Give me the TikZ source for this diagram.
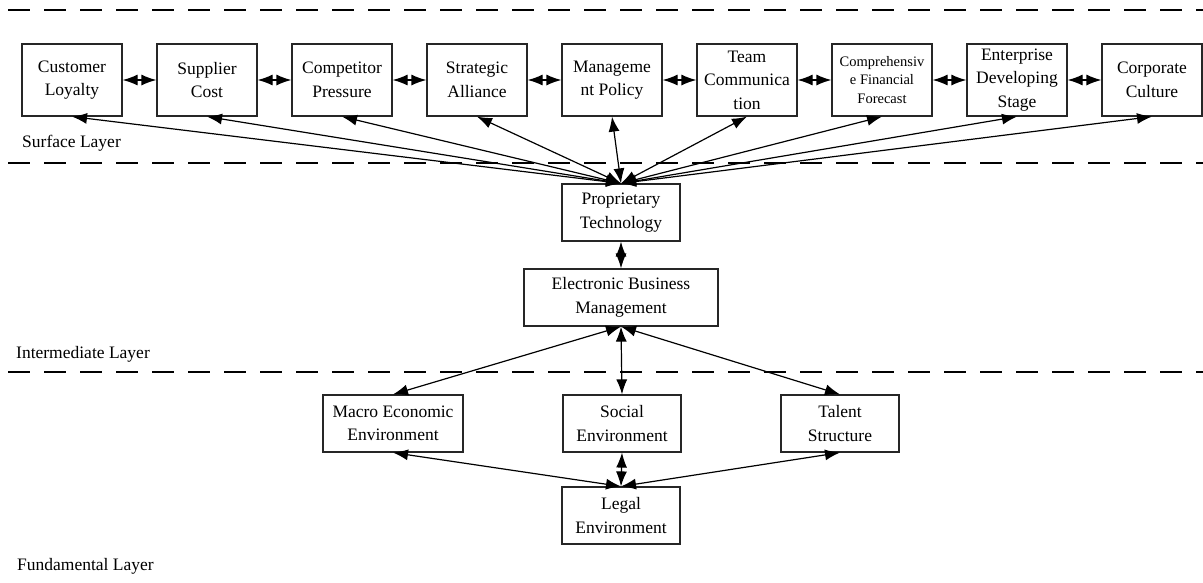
\documentclass[tikz,border=0pt]{standalone}
\usepackage{fontspec}
\setmainfont{Liberation Serif}
\usepackage{tikz}
\usetikzlibrary{arrows.meta, positioning}

\begin{document}
\begin{tikzpicture}[
      % GLOBAL CFG
      x=1pt, y=-1pt,
      font=\fontsize{17.5}{23.5}\selectfont,
      >={Latex[length=15pt,width=11pt]},
      % Styles
      box/.style={% For the factors
        rectangle,
        draw=black!85,
        line width=1.2pt,
        align=center,
        inner sep=1pt,
        minimum width=100pt,
        minimum height=72pt
      },
      midbox/.style={% For the lower factors
        box,
        minimum width=118pt,
        minimum height=57pt
      },
      arrowboth/.style={% Arrows between factors
        line width=1.2pt,
        <->,
      },
      layerline/.style={% Borders of the layers
        line width=1.3pt,
        dash pattern=on 22pt off 14pt,
      },
      layerlabel/.style={% Names of the layers
        anchor=west,
        inner sep=0pt
      }
      ]

      \useasboundingbox (0,0) rectangle (1203,582);

      % The layers
      \draw [layerline] (8,10) -- (1203,10);
      \draw [layerline] (8,163) -- (1203,163);
      \draw [layerline] (8,372) -- (1203,372);
      \node [layerlabel] (surface) at (22,143) {Surface Layer};
      \node [layerlabel] (intermediate) at (16,354) {Intermediate Layer};
      \node [layerlabel] (fundamental) at (17,566) {Fundamental Layer};

      % Surface layer:
      \node [box] (loyalty) at (72,80) {Customer\\Loyalty};
      \node [box] (supplier) at (207,80) {Supplier\\Cost};
      \node [box] (competitor) at (342,80) {Competitor\\Pressure};
      \node [box] (alliance) at (477,80) {Strategic\\Alliance};
      \node [box] (policy) at (612,80) {Manageme\\nt Policy};
      \node [box] (team) at (747,80) {Team\\Communica\\tion};
      \node [box, font=\fontsize{14.5}{18.5}\selectfont] (forecast) at (882,80) {Comprehensiv\\e Financial\\Forecast};
      \node [box] (stage) at (1017,80) {Enterprise\\Developing\\Stage};
      \node [box] (culture) at (1152,80) {Corporate\\Culture};
      \draw [arrowboth] (loyalty) -- (supplier);
      \draw [arrowboth] (supplier) -- (competitor);
      \draw [arrowboth] (competitor) -- (alliance);
      \draw [arrowboth] (alliance) -- (policy);
      \draw [arrowboth] (policy) -- (team);
      \draw [arrowboth] (team) -- (forecast);
      \draw [arrowboth] (forecast) -- (stage);
      \draw [arrowboth] (stage) -- (culture);

      % Intermediate layer:
      \node [midbox] (technology) at (621,212.5) {Proprietary\\Technology};
      \node [midbox, minimum width=194pt] (ebusiness) at (621,297.5) {Electronic Business\\Management};
      \draw [arrowboth] (technology) -- (ebusiness);
      \draw [arrowboth] (technology.north) -- (loyalty.south);
      \draw [arrowboth] (technology.north) -- (supplier.south);
      \draw [arrowboth] (technology.north) -- (competitor.south);
      \draw [arrowboth] (technology.north) -- (alliance.south);
      \draw [arrowboth] (technology.north) -- (policy.south);
      \draw [arrowboth] (technology.north) -- (team.south);
      \draw [arrowboth] (technology.north) -- (forecast.south);
      \draw [arrowboth] (technology.north) -- (stage.south);
      \draw [arrowboth] (technology.north) -- (culture.south);

      % Fundamental layer:
      \node [midbox, minimum width=140pt] (macro) at (393,423.5) {Macro Economic\\Environment};
      \node [midbox] (social) at (622,423.5) {Social\\Environment};
      \node [midbox] (talent) at (840,423.5) {Talent\\Structure};
      \node [midbox] (legal) at (621,515.5) {Legal\\Environment};
      \draw [arrowboth] (ebusiness.south) -- (macro.north);
      \draw [arrowboth] (ebusiness.south) -- (social.north);
      \draw [arrowboth] (ebusiness.south) -- (talent.north);
      \draw [arrowboth] (legal.north) -- (macro.south);
      \draw [arrowboth] (legal.north) -- (social.south);
      \draw [arrowboth] (legal.north) -- (talent.south);

    \end{tikzpicture}
\end{document}
